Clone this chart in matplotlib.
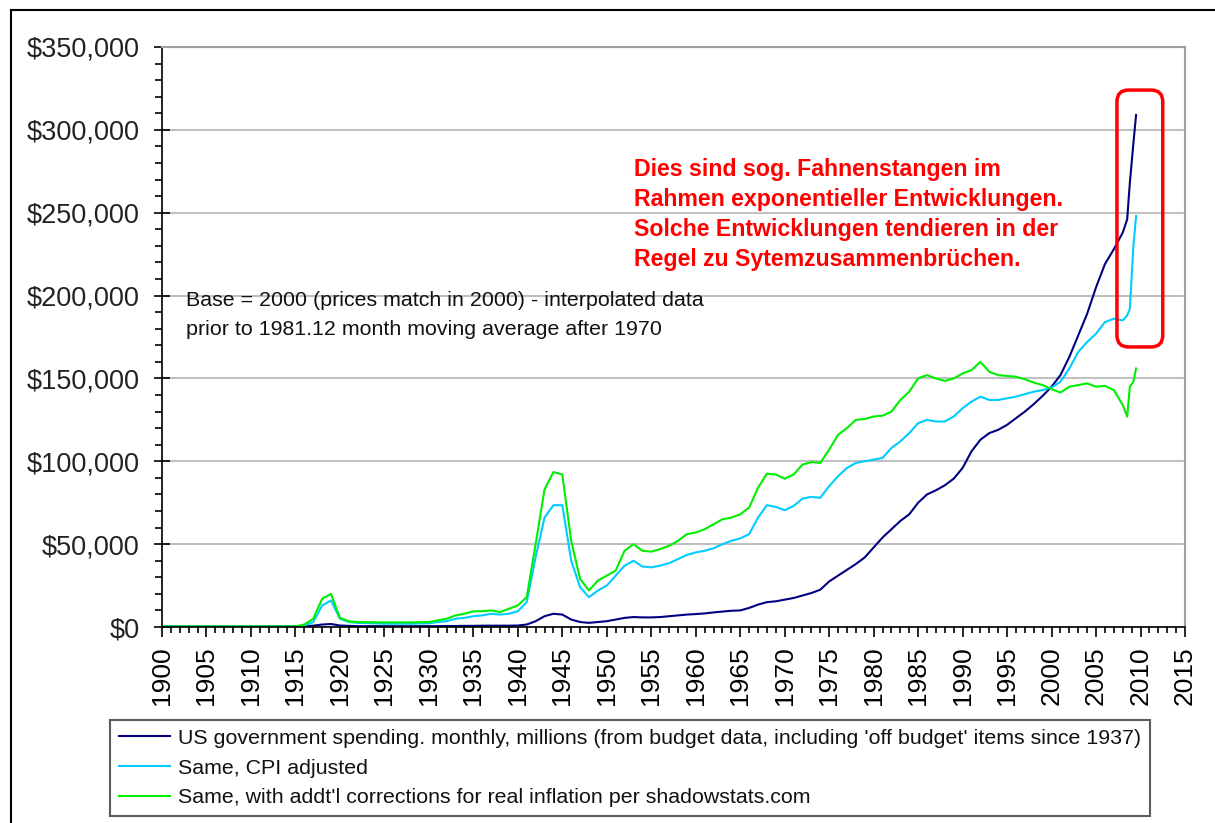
import matplotlib.pyplot as plt
from matplotlib.lines import Line2D
from matplotlib.patches import FancyBboxPatch
from matplotlib.ticker import FuncFormatter, MultipleLocator

plt.rcParams["font.family"] = ["Liberation Sans", "DejaVu Sans"]

years = [1900, 1905, 1910, 1915, 1916, 1917, 1918, 1919, 1920, 1921, 1922, 1925, 1928,
         1930, 1931, 1932, 1933, 1934, 1935, 1936, 1937, 1938, 1939, 1940, 1941, 1942,
         1943, 1944, 1945, 1946, 1947, 1948, 1949, 1950, 1951, 1952, 1953, 1954, 1955,
         1956, 1957, 1958, 1959, 1960, 1961, 1962, 1963, 1964, 1965, 1966, 1967, 1968,
         1969, 1970, 1971, 1972, 1973, 1974, 1975, 1976, 1977, 1978, 1979, 1980, 1981,
         1982, 1983, 1984, 1985, 1986, 1987, 1988, 1989, 1990, 1991, 1992, 1993, 1994,
         1995, 1996, 1997, 1998, 1999, 2000, 2001, 2002, 2003, 2004, 2005, 2006, 2007,
         2008, 2008.5, 2008.8, 2009.2, 2009.5]

nominal = [300, 300, 300, 400, 500, 800, 1500, 1800, 900, 700, 500, 500, 500,
           500, 500, 600, 600, 700, 700, 800, 800, 800, 800, 900, 1500, 3500,
           6500, 8000, 7500, 4500, 3000, 2500, 3000, 3500, 4500, 5500, 6000, 5800, 5800,
           6000, 6500, 7000, 7500, 7800, 8200, 8800, 9300, 9800, 10000, 11500, 13500, 15000,
           15500, 16500, 17500, 19000, 20500, 22500, 27500, 31000, 34500, 38000, 42000, 48000, 54000,
           59000, 64000, 68000, 75000, 80000, 82500, 85500, 89500, 96000, 106000, 113000, 117000, 119000,
           122000, 126000, 130000, 134500, 139500, 145000, 152000, 163000, 176000, 189000, 205000, 219000, 228000,
           238000, 246000, 268000, 292000, 309000]

cpi_adjusted = [300, 300, 300, 400, 800, 3000, 13000, 16000, 5000, 3000, 2500, 2000, 2000,
                2200, 3000, 3500, 5000, 5500, 6500, 7000, 8000, 7500, 8000, 9500, 15000, 42000,
                66000, 73500, 73500, 40000, 24000, 18000, 22000, 25000, 31000, 37000, 40000, 36500, 36000,
                37000, 38500, 41000, 43500, 45000, 46000, 47500, 50000, 52000, 53500, 56000, 66000, 73500,
                72500, 70500, 73000, 77500, 78500, 78000, 85000, 91000, 96000, 99000, 100000, 101000, 102000,
                108000, 112000, 117000, 123000, 125000, 124000, 124000, 127000, 132000, 136000, 139000, 137000, 137000,
                138000, 139000, 140500, 142000, 143000, 144500, 148000, 156000, 166000, 172000, 177000, 184000, 186000,
                185000, 188000, 192000, 230000, 248000]

shadowstats = [300, 300, 300, 400, 1500, 5000, 17000, 20000, 5500, 3500, 3000, 2800, 2800,
               3000, 4000, 5000, 7000, 8000, 9500, 9500, 10000, 9000, 11000, 13000, 18000, 50000,
               83000, 93500, 92000, 52000, 29000, 22000, 28000, 31000, 34000, 46000, 50000, 46000, 45500,
               47000, 49000, 52000, 56000, 57000, 59000, 62000, 65000, 66000, 68000, 72000, 84000, 92500,
               92000, 89500, 92000, 98000, 99500, 99000, 107000, 116000, 120000, 125000, 125500, 127000, 127500,
               130000, 137000, 142000, 150000, 152000, 150000, 148500, 150000, 153000, 155000, 160000, 154000, 152000,
               151500, 151000, 149500, 147500, 146000, 143500, 141500, 145000, 146000, 147000, 145000, 145500, 143000,
               134000, 127000, 145000, 148000, 156000]

labels = [
    "US government spending. monthly, millions (from budget data, including 'off budget' items since 1937)",
    "Same, CPI adjusted",
    "Same, with addt'l corrections for real inflation per shadowstats.com",
]

base_note = "Base = 2000 (prices match in 2000) - interpolated data\nprior to 1981.12 month moving average after 1970"
red_note = ("Dies sind sog. Fahnenstangen im\nRahmen exponentieller Entwicklungen.\n"
            "Solche Entwicklungen tendieren in der\nRegel zu Sytemzusammenbrüchen.")

W, H = 1215, 823
fig = plt.figure(figsize=(W / 100, H / 100), dpi=100)
ax = fig.add_axes([162 / W, 1 - 627 / H, (1185 - 162) / W, (627 - 47) / H])

l1, = ax.plot(years, nominal, color="#000080", lw=1.5)
l2, = ax.plot(years, cpi_adjusted, color="#00ccff", lw=1.5)
l3, = ax.plot(years, shadowstats, color="#00ee00", lw=1.5)

ax.set_xlim(1900, 2015)
ax.set_ylim(0, 350000)
ax.yaxis.set_major_locator(MultipleLocator(50000))
ax.yaxis.set_minor_locator(MultipleLocator(10000))
ax.xaxis.set_major_locator(MultipleLocator(5))
ax.xaxis.set_minor_locator(MultipleLocator(1))
ax.yaxis.set_major_formatter(FuncFormatter(lambda v, p: f"${v:,.0f}"))
ax.xaxis.set_major_formatter(FuncFormatter(lambda v, p: f"{v:.0f}"))

ax.grid(axis="y", color="#c0c0c0", lw=1.5)
ax.set_axisbelow(True)
for side in ["top", "right"]:
    ax.spines[side].set_color("#a0a0a0")
    ax.spines[side].set_linewidth(1.5)
for side in ["left", "bottom"]:
    ax.spines[side].set_color("black")
    ax.spines[side].set_linewidth(1.2)

ax.tick_params(axis="y", which="major", direction="inout", length=12, width=1.2,
               labelsize=19.5, pad=10, colors="black")
ax.tick_params(axis="y", which="minor", direction="out", length=5, width=1.2)
ax.tick_params(axis="x", which="major", direction="out", length=7, width=1.2,
               labelsize=19, pad=7, labelrotation=90)
ax.tick_params(axis="x", which="minor", direction="out", length=4, width=1.2)
for lab in ax.get_yticklabels():
    lab.set_color("#222222")

ax.text(0.0235, 0.580, base_note, transform=ax.transAxes, fontsize=15.4,
        va="top", ha="left", linespacing=1.68, color="#111111")
ax.text(0.4614, 0.809, red_note, transform=ax.transAxes, fontsize=16.7,
        fontweight="bold", color="#ff0000", va="top", ha="left", linespacing=1.39)

box = FancyBboxPatch((2007.35, 169000), 5.15, 155000,
                     boxstyle="round,pad=0,rounding_size=1.3", mutation_aspect=5368,
                     fill=False, edgecolor="#ff0000", lw=2.5, zorder=5)
ax.add_patch(box)

leg = fig.legend([l1, l2, l3], labels, loc="upper left",
                 bbox_to_anchor=(110 / W, 1 - 720 / H), bbox_transform=fig.transFigure,
                 borderaxespad=0, fontsize=15.4, frameon=True, fancybox=False,
                 handlelength=2.4, handletextpad=0.35, labelspacing=0.5, borderpad=0.42)
leg.get_frame().set_edgecolor("#333333")
leg.get_frame().set_linewidth(1.5)
for t in leg.get_texts():
    t.set_color("#111111")

fig.add_artist(Line2D([11 / W, 11 / W], [0, 1 - 10 / H], transform=fig.transFigure,
                      color="black", lw=1.5))
fig.add_artist(Line2D([11 / W, 1], [1 - 10 / H, 1 - 10 / H], transform=fig.transFigure,
                      color="black", lw=1.5))

fig.savefig("out.png", dpi=100)
